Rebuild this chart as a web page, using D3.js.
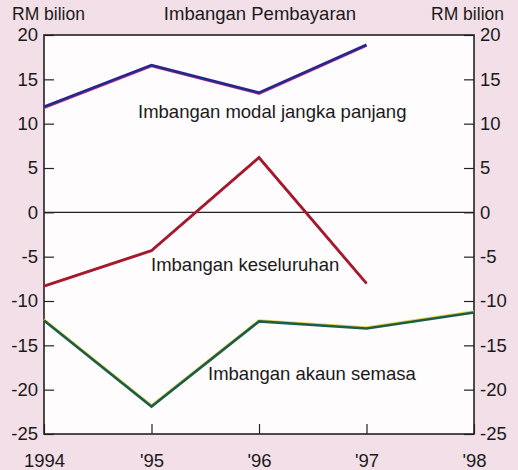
<!DOCTYPE html>
<html><head><meta charset="utf-8">
<script src="https://cdn.jsdelivr.net/npm/d3@7"></script>
<style>
html,body{margin:0;padding:0;background:#f3dfe8;}
svg{display:block;}
text{font-family:"Liberation Sans",Arial,Helvetica,sans-serif;fill:#1a1a1a;}
</style></head>
<body>
<svg id="chart" width="518" height="470"></svg>
<script>
const years = [1994, 1995, 1996, 1997, 1998];
const xTickLabels = ["1994", "'95", "'96", "'97", "'98"];
const yTicks = [20, 15, 10, 5, 0, -5, -10, -15, -20, -25];
const capitalYears = [1994, 1995, 1996, 1997];
const capitalValues = [11.9, 16.6, 13.5, 18.9];
const overallYears = [1994, 1995, 1996, 1997];
const overallValues = [-8.3, -4.3, 6.2, -8.0];
const currentYears = [1994, 1995, 1996, 1997, 1998];
const currentValues = [-12.2, -21.9, -12.3, -13.1, -11.3];
const title = "Imbangan Pembayaran";
const unitLabel = "RM bilion";
const seriesLabels = ["Imbangan modal jangka panjang", "Imbangan keseluruhan", "Imbangan akaun semasa"];

const svg = d3.select("#chart");
const L = 44, R = 474, T = 35, B = 434;
const x = d3.scaleLinear().domain([1994, 1998]).range([L, R]);
const y = d3.scaleLinear().domain([-25, 20]).range([B, T]);

svg.append("rect").attr("x", L).attr("y", T).attr("width", R - L).attr("height", B - T)
  .attr("fill", "#fefcfd");

svg.append("line").attr("x1", L).attr("x2", R).attr("y1", y(0)).attr("y2", y(0))
  .attr("stroke", "#222").attr("stroke-width", 1.2);

const fs = "18.5px";
const leftAxis = d3.axisLeft(y).tickValues(yTicks).tickSize(-10).tickPadding(6).tickFormat(d => d);
const rightAxis = d3.axisRight(y).tickValues(yTicks).tickSize(-10).tickPadding(6).tickFormat(d => d);
const bottomAxis = d3.axisBottom(x).tickValues(years).tickSize(-10).tickPadding(20)
  .tickFormat((d, i) => xTickLabels[i]);

function styleAxis(g) {
  g.select(".domain").remove();
  g.selectAll(".tick line").attr("stroke", "#222").attr("stroke-width", 1.2);
  g.selectAll(".tick text").style("font-size", fs).attr("fill", "#1a1a1a")
    .style("font-family", '"Liberation Sans",Arial,Helvetica,sans-serif');
}
svg.append("g").attr("transform", `translate(${L},0)`).call(leftAxis).call(styleAxis);
svg.append("g").attr("transform", `translate(${R},0)`).call(rightAxis).call(styleAxis);
svg.append("g").attr("transform", `translate(0,${B})`).call(bottomAxis).call(styleAxis);

svg.append("rect").attr("x", L).attr("y", T).attr("width", R - L).attr("height", B - T)
  .attr("fill", "none").attr("stroke", "#222").attr("stroke-width", 1.6);

const line = d3.line().x(d => x(d[0])).y(d => y(d[1]));
function drawSeries(xs, vs, color, edge, dy) {
  const pts = xs.map((d, i) => [d, vs[i]]);
  svg.append("path").datum(pts).attr("d", line).attr("fill", "none")
    .attr("stroke", edge).attr("stroke-width", 2.4).attr("transform", `translate(0,${dy})`);
  svg.append("path").datum(pts).attr("d", line).attr("fill", "none")
    .attr("stroke", color).attr("stroke-width", 2.6);
}
drawSeries(capitalYears, capitalValues, "#23288f", "#c0307a", 1);
drawSeries(overallYears, overallValues, "#a31a2e", "#c8304a", 0.5);
drawSeries(currentYears, currentValues, "#1d5c48", "#e0d84a", -1);

svg.append("text").attr("x", 260).attr("y", 20).attr("text-anchor", "middle")
  .style("font-size", fs).text(title);
svg.append("text").attr("x", 12).attr("y", 20).style("font-size", "17.5px").text(unitLabel);
svg.append("text").attr("x", 504).attr("y", 20).attr("text-anchor", "end").style("font-size", "17.5px").text(unitLabel);

svg.append("text").attr("x", 138).attr("y", 118).style("font-size", fs).text(seriesLabels[0]);
svg.append("text").attr("x", 151).attr("y", 271).style("font-size", fs).text(seriesLabels[1]);
svg.append("text").attr("x", 208).attr("y", 380).style("font-size", fs).text(seriesLabels[2]);
</script>
</body></html>
